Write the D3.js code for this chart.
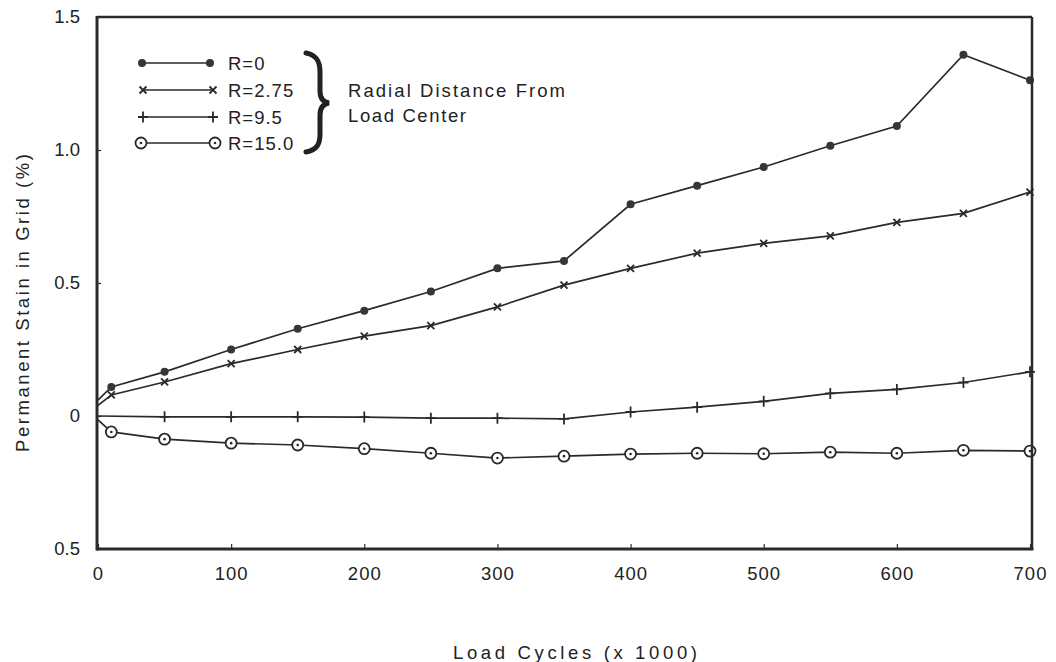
<!DOCTYPE html>
<html>
<head>
<meta charset="utf-8">
<script src="https://cdn.jsdelivr.net/npm/d3@7"></script>
<style>
  html, body { margin: 0; padding: 0; background: #fff; }
  svg { display: block; }
  text { font-family: "Liberation Sans", Arial, sans-serif; fill: #222; }
</style>
</head>
<body>
<svg id="chart" width="1056" height="662"></svg>
<script>
// ---- data ----
const loadCycles = [0, 10, 50, 100, 150, 200, 250, 300, 350, 400, 450, 500, 550, 600, 650, 700];
const strainR0   = [0.06, 0.109, 0.166, 0.25, 0.328, 0.396, 0.468, 0.555, 0.583, 0.796, 0.866, 0.936, 1.016, 1.09, 1.358, 1.262];
const strainR275 = [0.04, 0.079, 0.128, 0.197, 0.25, 0.30, 0.34, 0.41, 0.492, 0.555, 0.612, 0.649, 0.677, 0.728, 0.762, 0.842];
const loadCyclesR95 = [0, 50, 100, 150, 200, 250, 300, 350, 400, 450, 500, 550, 600, 650, 700];
const strainR95  = [0, -0.003, -0.003, -0.003, -0.004, -0.008, -0.008, -0.011, 0.015, 0.033, 0.055, 0.085, 0.10, 0.126, 0.166];
const strainR15  = [-0.015, -0.06, -0.087, -0.102, -0.109, -0.123, -0.14, -0.158, -0.151, -0.143, -0.14, -0.142, -0.136, -0.14, -0.129, -0.132];

const xTickValues = [0, 100, 200, 300, 400, 500, 600, 700];
const xTickLabels = ["0", "100", "200", "300", "400", "500", "600", "700"];
const yTickValues = [-0.5, 0, 0.5, 1.0, 1.5];
const yTickLabels = ["0.5", "0", "0.5", "1.0", "1.5"];

const seriesNames = ["R=0", "R=2.75", "R=9.5", "R=15.0"];
const bracketText = ["Radial  Distance  From", "Load  Center"];
const xTitle = "Load Cycles (x 1000)";
const yTitle = "Permanent Stain in Grid (%)";

// ---- layout ----
const svg = d3.select("#chart");
const pLeft = 98, pRight = 1030, pTop = 17, pBottom = 549;
const x = d3.scaleLinear().domain([0, 700]).range([pLeft, pRight]);
const y = d3.scaleLinear().domain([-0.5, 1.5]).range([pBottom, pTop]);
const ink = "#2a2a2a";
const fontSize = 18.5;

const series = [
  { name: seriesNames[0], xs: loadCycles,    ys: strainR0,   marker: "dot" },
  { name: seriesNames[1], xs: loadCycles,    ys: strainR275, marker: "cross" },
  { name: seriesNames[2], xs: loadCyclesR95, ys: strainR95,  marker: "plus" },
  { name: seriesNames[3], xs: loadCycles,    ys: strainR15,  marker: "circle" }
];

function drawMarker(g, type, cx, cy) {
  if (type === "dot") {
    g.append("circle").attr("cx", cx).attr("cy", cy).attr("r", 4).attr("fill", "#363636");
  } else if (type === "cross") {
    const s = 3.5;
    g.append("path").attr("d", `M${cx - s},${cy - s}L${cx + s},${cy + s}M${cx - s},${cy + s}L${cx + s},${cy - s}`)
      .attr("stroke", ink).attr("stroke-width", 1.8).attr("fill", "none");
  } else if (type === "plus") {
    g.append("path").attr("d", `M${cx - 5},${cy}L${cx + 5},${cy}M${cx},${cy - 5.5}L${cx},${cy + 5.5}`)
      .attr("stroke", ink).attr("stroke-width", 1.8).attr("fill", "none");
  } else if (type === "circle") {
    g.append("circle").attr("cx", cx).attr("cy", cy).attr("r", 5.5)
      .attr("fill", "#fff").attr("stroke", ink).attr("stroke-width", 1.8);
    g.append("circle").attr("cx", cx).attr("cy", cy).attr("r", 1.3).attr("fill", ink);
  }
}

// ---- series lines & markers ----
const line = d3.line().x(d => x(d[0])).y(d => y(d[1]));
const plot = svg.append("g");
series.forEach(s => {
  const pts = s.xs.map((v, i) => [v, s.ys[i]]);
  plot.append("path").datum(pts).attr("d", line)
    .attr("fill", "none").attr("stroke", ink).attr("stroke-width", 1.7);
});
series.forEach(s => {
  s.xs.forEach((v, i) => {
    if (v > 0) drawMarker(plot, s.marker, x(v), y(s.ys[i]));
  });
});

// ---- frame & axes ----
svg.append("line").attr("x1", pLeft - 1).attr("x2", pRight + 2).attr("y1", pTop).attr("y2", pTop)
  .attr("stroke", ink).attr("stroke-width", 2.5);
svg.append("line").attr("x1", pRight + 2).attr("x2", pRight + 2).attr("y1", pTop).attr("y2", pBottom)
  .attr("stroke", ink).attr("stroke-width", 2.5);

const xAxis = d3.axisBottom(x).tickValues(xTickValues).tickSize(-5).tickPadding(18)
  .tickFormat((d, i) => xTickLabels[i]);
const gx = svg.append("g").attr("transform", `translate(0,${pBottom})`).call(xAxis);
gx.select(".domain").attr("stroke", ink).attr("stroke-width", 3).attr("d", `M${pLeft - 1.5},0H${pRight + 3.5}`);
gx.selectAll(".tick line").attr("stroke", ink).attr("stroke-width", 1.2);
gx.selectAll(".tick text").attr("font-size", fontSize).attr("fill", "#222")
  .attr("font-family", "Liberation Sans, Arial, sans-serif").attr("letter-spacing", 1);

const yAxis = d3.axisLeft(y).tickValues(yTickValues).tickSize(-4).tickPadding(17)
  .tickFormat((d, i) => yTickLabels[i]);
const gy = svg.append("g").attr("transform", `translate(${pLeft - 1},0)`).call(yAxis);
gy.select(".domain").attr("stroke", ink).attr("stroke-width", 3).attr("d", `M0,${pTop - 1}V${pBottom + 1.5}`);
gy.selectAll(".tick line").attr("stroke", ink).attr("stroke-width", 1.2);
gy.selectAll(".tick text").attr("font-size", fontSize).attr("fill", "#222")
  .attr("font-family", "Liberation Sans, Arial, sans-serif");

// ---- axis titles ----
svg.append("text").attr("x", 575).attr("y", 659).attr("text-anchor", "middle")
  .attr("font-size", fontSize).attr("textLength", 244).attr("lengthAdjust", "spacing").text(xTitle);
svg.append("text").attr("transform", "translate(29,303) rotate(-90)").attr("text-anchor", "middle")
  .attr("font-size", fontSize).attr("textLength", 298).attr("lengthAdjust", "spacing").text(yTitle);

// ---- legend ----
const legend = svg.append("g");
const rowY = [63, 90, 117, 143];
const lineX = [[142, 210], [143, 213], [143, 213], [141, 215]];
series.forEach((s, i) => {
  legend.append("line").attr("x1", lineX[i][0]).attr("x2", lineX[i][1]).attr("y1", rowY[i]).attr("y2", rowY[i])
    .attr("stroke", ink).attr("stroke-width", 1.6);
  drawMarker(legend, s.marker, lineX[i][0], rowY[i]);
  drawMarker(legend, s.marker, lineX[i][1], rowY[i]);
  legend.append("text").attr("x", 228).attr("y", rowY[i] + 6.5).attr("font-size", fontSize)
    .attr("letter-spacing", 1).text(s.name);
});

// brace
legend.append("path")
  .attr("d", "M306,53 C317,55 320,62 320,72 L320,91 C320,98 323,102 329,103 C323,104 320,108 320,115 L320,134 C320,144 317,150 306,152")
  .attr("fill", "none").attr("stroke", "#222").attr("stroke-width", 5).attr("stroke-linecap", "round");

legend.append("text").attr("x", 348).attr("y", 97).attr("font-size", fontSize)
  .attr("textLength", 217).attr("lengthAdjust", "spacing").text(bracketText[0]);
legend.append("text").attr("x", 348).attr("y", 122).attr("font-size", fontSize)
  .attr("textLength", 118).attr("lengthAdjust", "spacing").text(bracketText[1]);
</script>
</body>
</html>
